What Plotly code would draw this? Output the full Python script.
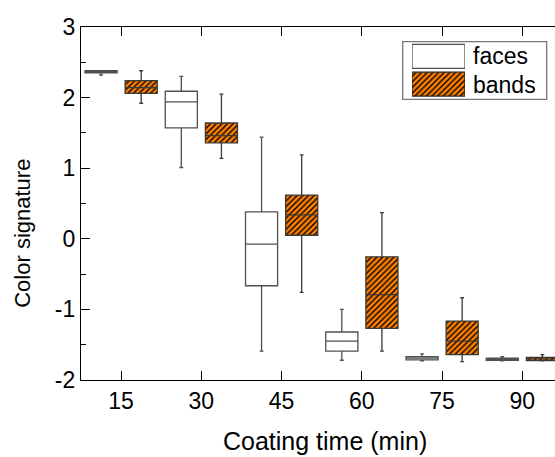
import plotly.graph_objects as go

# ---- data ----
times = [15, 30, 45, 60, 75, 90]
tick_labels = ["15", "30", "45", "60", "75", "90"]
y_ticks = [-2, -1, 0, 1, 2, 3]
y_tick_labels = ["-2", "-1", "0", "1", "2", "3"]

faces_upper = [2.38, 2.30, 1.44, -1.00, -1.63, -1.67]
faces_q3 = [2.38, 2.09, 0.38, -1.32, -1.67, -1.69]
faces_median = [2.365, 1.94, -0.075, -1.45, -1.69, -1.705]
faces_q1 = [2.35, 1.57, -0.665, -1.59, -1.715, -1.72]
faces_lower = [2.32, 1.01, -1.59, -1.72, -1.73, -1.73]

bands_upper = [2.38, 2.05, 1.19, 0.37, -0.835, -1.64]
bands_q3 = [2.24, 1.64, 0.62, -0.255, -1.165, -1.68]
bands_median = [2.14, 1.46, 0.34, -0.79, -1.45, -1.70]
bands_q1 = [2.06, 1.36, 0.05, -1.27, -1.64, -1.725]
bands_lower = [1.92, 1.14, -0.76, -1.59, -1.74, -1.73]

series_names = ["faces", "bands"]

# ---- layout geometry ----
W, H = 555, 457
ML, MR, MT, MB = 81, 0, 27, 77
PW, PH = W - ML - MR, H - MT - MB
FONT = "Liberation Sans, Arial, sans-serif"
ORANGE = "#FF8000"
OFFSET = 3.75
BOXW = 6.0


def px_x(p):
    return (p - ML) / PW


def px_y(p):
    return 1 - (p - MT) / PH


faces_x = [t - OFFSET for t in times]
bands_x = [t + OFFSET for t in times]
bands_height = [a - b for a, b in zip(bands_q3, bands_q1)]

pattern = dict(shape="/", fgcolor="black", bgcolor=ORANGE, size=4,
               solidity=0.35, fillmode="replace")

fig = go.Figure()

# hatched fill of the bands boxes
fig.add_trace(go.Bar(
    x=bands_x, y=bands_height, base=bands_q1, width=BOXW,
    marker=dict(color=ORANGE, pattern=pattern, line=dict(width=0)),
    showlegend=False, hoverinfo="skip"))

fig.add_trace(go.Box(
    name=series_names[0], x=faces_x, q1=faces_q1, median=faces_median,
    q3=faces_q3, lowerfence=faces_lower, upperfence=faces_upper,
    width=BOXW, whiskerwidth=0.12, fillcolor="white",
    line=dict(color="#505050", width=1.3), boxpoints=False,
    showlegend=False))

fig.add_trace(go.Box(
    name=series_names[1], x=bands_x, q1=bands_q1, median=bands_median,
    q3=bands_q3, lowerfence=bands_lower, upperfence=bands_upper,
    width=BOXW, whiskerwidth=0.12, fillcolor="rgba(0,0,0,0)",
    line=dict(color="#3a3a3a", width=1.3), boxpoints=False,
    showlegend=False))

# ---- custom legend (swatches on their own small axes) ----
fig.add_trace(go.Bar(
    x=[1], y=[1], base=[0], orientation="h", width=0.86,
    marker=dict(color="white", line=dict(color="#505050", width=1.3)),
    xaxis="x2", yaxis="y2", showlegend=False, hoverinfo="skip"))
fig.add_trace(go.Bar(
    x=[1], y=[0], base=[0], orientation="h", width=0.86,
    marker=dict(color=ORANGE, pattern=pattern,
                line=dict(color="#222222", width=1.3)),
    xaxis="x2", yaxis="y2", showlegend=False, hoverinfo="skip"))

axis_common = dict(showline=True, linecolor="black", linewidth=1.3,
                   ticks="inside", ticklen=9, tickwidth=1.3,
                   tickcolor="black", showgrid=False, zeroline=False,
                   tickfont=dict(family=FONT, size=23, color="black"))

fig.update_layout(
    width=W, height=H,
    margin=dict(l=ML, r=MR, t=MT, b=MB, pad=0),
    plot_bgcolor="white", paper_bgcolor="white",
    barmode="overlay", showlegend=False,
    font=dict(family=FONT, color="black"),
    xaxis=dict(range=[7.5, 96.1], tickvals=times, ticktext=tick_labels,
               mirror="ticks", **axis_common),
    yaxis=dict(range=[-2, 3], tickvals=y_ticks, ticktext=y_tick_labels,
               mirror=False,
               minor=dict(dtick=0.5, ticks="inside", ticklen=5,
                          tickwidth=1.3, tickcolor="black"),
               **axis_common),
    yaxis3=dict(range=[-2, 3], tickvals=y_ticks, overlaying="y",
                side="right", anchor="x", showline=False, ticks="inside",
                ticklen=2, tickwidth=1.3, tickcolor="black",
                showticklabels=False, showgrid=False, zeroline=False),
    xaxis2=dict(domain=[px_x(412), px_x(465)], range=[0, 1],
                anchor="y2", visible=False),
    yaxis2=dict(domain=[px_y(98), px_y(42.5)], range=[-0.5, 1.5],
                anchor="x2", visible=False),
)

# legend frame and labels
fig.add_shape(type="rect", xref="paper", yref="paper",
              x0=px_x(402.7), x1=px_x(546.7), y0=px_y(99.3), y1=px_y(41.7),
              line=dict(color="#777777", width=1.3), fillcolor="rgba(0,0,0,0)")
for name, yc in zip(series_names, [55.5, 84.7]):
    fig.add_annotation(text=name, xref="paper", yref="paper",
                       x=px_x(471), y=px_y(yc), xanchor="left",
                       yanchor="middle", showarrow=False,
                       font=dict(family=FONT, size=23, color="black"))

# axis titles
fig.add_annotation(text="Coating time (min)", xref="paper", yref="paper",
                   x=px_x(325), y=px_y(456.5), xanchor="center",
                   yanchor="bottom", showarrow=False,
                   font=dict(family=FONT, size=25, color="black"))
fig.add_annotation(text="Color signature", xref="paper", yref="paper",
                   x=px_x(22.5), y=px_y(233.3), xanchor="center",
                   yanchor="middle", textangle=-90, showarrow=False,
                   font=dict(family=FONT, size=22, color="black"))

fig.write_html(
    "out.html",
    config={"displayModeBar": False},
    post_script="document.body.style.margin='0';"
                "document.body.style.overflow='hidden';")
